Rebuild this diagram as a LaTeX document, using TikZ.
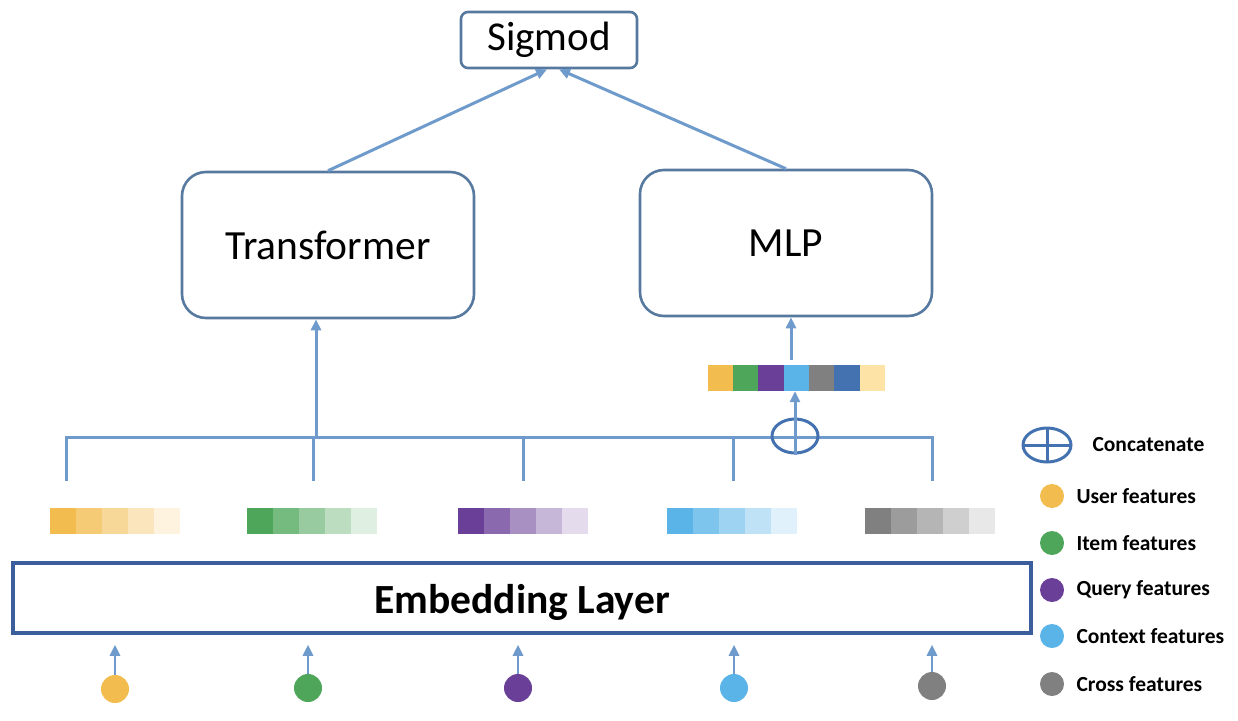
\documentclass[tikz,border=0pt]{standalone}
\usepackage{fontspec}
\setmainfont{Carlito}
\usetikzlibrary{positioning,arrows.meta,calc,shapes.geometric}
\definecolor{wire}{HTML}{6E9BCB}
\definecolor{frame}{HTML}{57799F}
\definecolor{embframe}{HTML}{3D5E9D}
\definecolor{fuser}{HTML}{F2BC4E}
\definecolor{fitem}{HTML}{4EA65A}
\definecolor{fquery}{HTML}{6A3F98}
\definecolor{fcontext}{HTML}{5AB4E8}
\definecolor{fcross}{HTML}{808080}
\definecolor{fblue}{HTML}{4472B0}
\definecolor{fpale}{HTML}{FDE3A6}

% one embedding output: five cells fading to white
\newcommand{\featbar}[3]{%
  \node[barbox] (#1) at (#2,521) {};
  \foreach \k/\p in {0/100,1/78,2/58,3/38,4/18}
    \fill[#3!\p] ($(#1.north west)+(\k*26,0)$) rectangle ++(26,26);
}

\begin{document}
\begin{tikzpicture}[
      x=1pt, y=-1pt,
      block/.style={draw=frame, line width=2.6pt, fill=white, rounded corners=24pt,
                    minimum width=292pt, minimum height=146pt, font=\fontsize{41.5}{46}\selectfont},
      barbox/.style={minimum width=130pt, minimum height=26pt, inner sep=0pt},
      dot/.style={circle, inner sep=0pt, minimum size=26pt},
      concat/.style={ellipse, draw=fblue, line width=3pt, minimum width=46pt,
                     minimum height=34pt, inner sep=0pt},
      legtext/.style={anchor=west, font=\fontsize{21.5}{25}\selectfont\bfseries},
      arr/.style={-{Triangle[length=11pt, width=10pt]}, color=wire, line width=3pt},
      bus/.style={color=wire, line width=3pt},
    ]
      \useasboundingbox (0,0) rectangle (1238,720);

      \node[draw=frame, line width=2.6pt, rounded corners=7pt, minimum width=176pt,
            minimum height=56pt, inner sep=0pt, font=\fontsize{41}{46}\selectfont]
            (sig) at (549,40) {Sigmod};
      \node[block] (trans) at (328,245) {Transformer};
      \node[block] (mlp) at (786,243) {MLP};

      \coordinate (sigL) at ($(sig.south)+(-2,0)$);
      \coordinate (sigR) at ($(sig.south)+(10,0)$);
      \draw[arr] (trans.north) -- (sigL);
      \draw[arr] (mlp.north) -- (sigR);

      % concatenated vector for the MLP
      \node[minimum width=177pt, minimum height=26pt, inner sep=0pt] (vec) at (796.5,378) {};
      \foreach \k/\c in {0/fuser,1/fitem,2/fquery,3/fcontext,4/fcross,5/fblue,6/fpale}
        \fill[\c] ($(vec.north west)+(\k*25.3,0)$) rectangle ++(25.3,26);
      \coordinate (vecOut) at (791,360);
      \draw[arr] (vecOut) -- (vecOut |- mlp.south);

      % feature embeddings
      \featbar{ubar}{115}{fuser}
      \featbar{ibar}{312}{fitem}
      \featbar{qbar}{523}{fquery}
      \featbar{cbar}{732}{fcontext}
      \featbar{xbar}{930}{fcross}

      \coordinate (busL) at (66,437);
      \coordinate (busR) at (932,437);
      \coordinate (transIn) at (316,437);
      \draw[bus] (66,481) -- (busL) -- (busR) -- (932,481);
      \foreach \x in {313,523,733}
        \draw[bus] (\x,437) -- (\x,481);
      \draw[arr] (transIn) -- (transIn |- trans.south);

      \node[concat] (cat) at (795,436) {};
      \draw[arr] (cat.south) -- (cat.south |- vec.south);

      \node[draw=embframe, line width=3.5pt, minimum width=1018pt, minimum height=70pt,
            font=\fontsize{41.5}{46}\selectfont\bfseries] (emb) at (522,598) {};
      \node[font=\fontsize{41.5}{46}\selectfont\bfseries] (embtxt) at (522,602) {Embedding Layer};

      % raw input features
      \node[dot, fill=fuser, minimum height=28pt] (uin) at (115,689) {};
      \node[dot, fill=fitem, minimum height=28pt] (iin) at (308,688) {};
      \node[dot, fill=fquery, minimum height=28pt] (qin) at (518,688) {};
      \node[dot, fill=fcontext, minimum height=28pt] (cin) at (734,688) {};
      \node[dot, fill=fcross, minimum height=28pt] (xin) at (932,686) {};
      \foreach \n in {uin,iin,qin,cin,xin}
        \draw[arr, line width=2.6pt, shorten >=10pt] (\n.north) -- (\n.north |- emb.south);

      % legend
      \node[concat, minimum width=48pt, path picture={
              \draw[fblue, line width=3pt] (path picture bounding box.north) -- (path picture bounding box.south);
              \draw[fblue, line width=3pt] (path picture bounding box.west) -- (path picture bounding box.east);}]
            (catkey) at (1047,445) {};
      \node[legtext] (catlbl) at (1089,445) {Concatenate};
      \node[dot, fill=fuser, minimum size=24pt] (ukey) at (1052,496) {};
      \node[dot, fill=fitem, minimum size=24pt] (ikey) at (1052,543) {};
      \node[dot, fill=fquery, minimum size=24pt] (qkey) at (1052,590) {};
      \node[dot, fill=fcontext, minimum size=24pt] (ckey) at (1052,636) {};
      \node[dot, fill=fcross, minimum size=24pt] (xkey) at (1052,684) {};
      \node[legtext] (ulbl) at (1073,496) {User features};
      \node[legtext] (ilbl) at (1073,543) {Item features};
      \node[legtext] (qlbl) at (1073,590) {Query features};
      \node[legtext] (clbl) at (1073,636) {Context features};
      \node[legtext] (xlbl) at (1073,684) {Cross features};
    \end{tikzpicture}
\end{document}
